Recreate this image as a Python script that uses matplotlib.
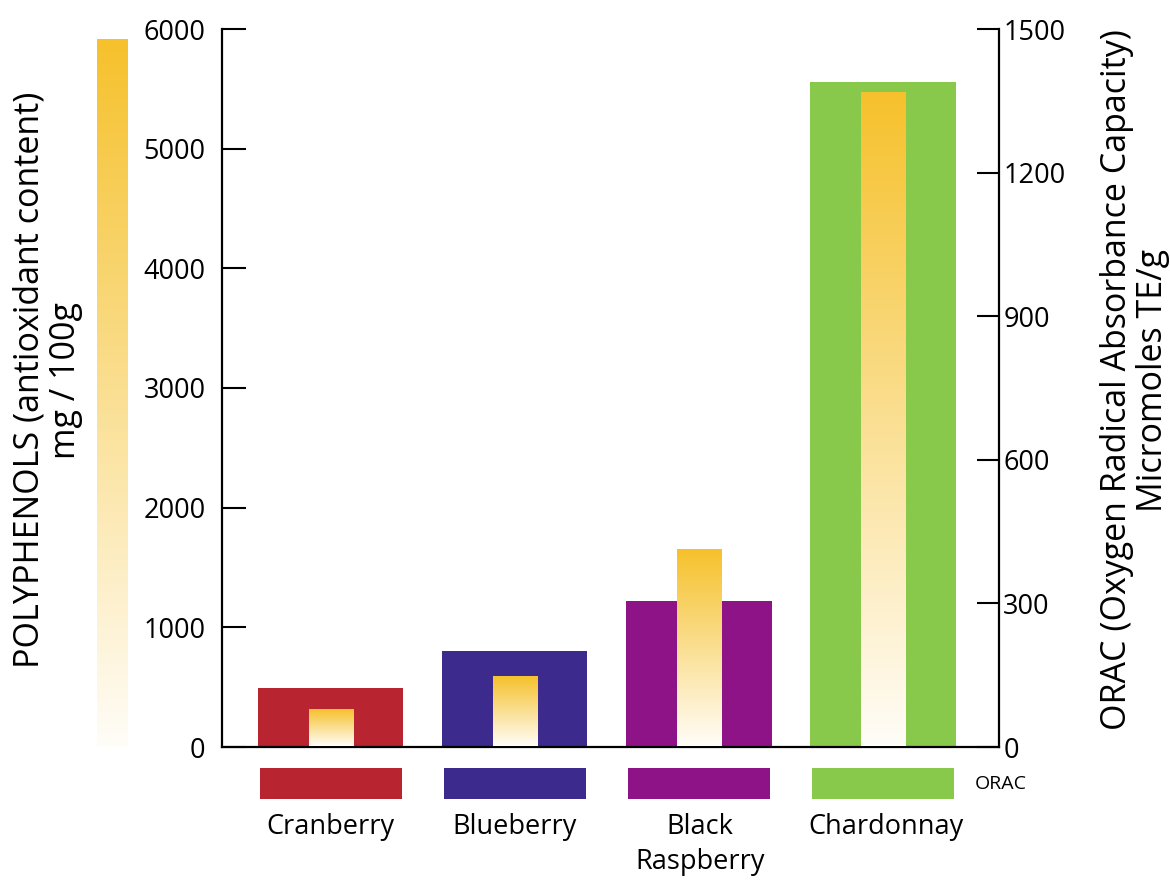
"""Polyphenols vs ORAC bar chart with gradient bars."""

import numpy as np
import matplotlib
matplotlib.use("Agg")
import matplotlib.pyplot as plt
from matplotlib.colors import LinearSegmentedColormap

plt.rcParams["font.family"] = ["Open Sans", "DejaVu Sans"]

categories = ["Cranberry", "Blueberry", "Black\nRaspberry", "Chardonnay"]
orac = [123, 201, 305, 1389]  # micromoles TE/g (right axis)
polyphenols = [310, 586, 1649, 5464]  # mg / 100g (left axis)
bar_colors = ["#B82530", "#3C2A8C", "#8E1386", "#88C84A"]

poly_ticks = [0, 1000, 2000, 3000, 4000, 5000, 6000]
orac_ticks = [0, 300, 600, 900, 1200, 1500]

grad = LinearSegmentedColormap.from_list("poly", ["#FFFDF8", "#F6C12C"])
gradient = np.linspace(0, 1, 256).reshape(-1, 1)

fig = plt.figure(figsize=(11.7, 8.81), dpi=100)
ax = fig.add_axes([222 / 1170, 1 - 747 / 881, (999 - 222) / 1170, (747 - 29) / 881])
ax2 = ax.twinx()

x = np.arange(len(categories))
xlim = (-0.59, 3.63)

# wide bars: ORAC on the right axis (drawn underneath)
ax.bar(x, orac, width=0.79, color=bar_colors, zorder=1)
ax.set_ylim(0, 1500)
ax.set_yticks(orac_ticks)
ax.yaxis.tick_right()
ax.set_xlim(*xlim)

# narrow gradient bars: polyphenols on the left axis
for xi, val in zip(x, polyphenols):
    ax2.imshow(gradient, cmap=grad, origin="lower", aspect="auto",
               extent=(xi - 0.12, xi + 0.12, 5, val), zorder=2)
ax2.set_xlim(*xlim)
ax2.set_ylim(0, 6000)
ax2.yaxis.tick_left()
ax2.set_yticks(poly_ticks)

for a in (ax, ax2):
    a.set_xticks([])
    a.spines["top"].set_visible(False)
    for s in a.spines.values():
        s.set_linewidth(1.6)
ax2.spines["right"].set_visible(False)
ax.spines["left"].set_visible(False)
ax2.spines["bottom"].set_visible(False)

ax.tick_params(axis="y", direction="in", length=16, width=1.5, labelsize=19.5, pad=3)
ax2.tick_params(axis="y", direction="in", length=17, width=1.5, labelsize=19.5, pad=12)

# ORAC colour key strips under each bar
key = fig.add_axes([222 / 1170, 1 - 799 / 881, (999 - 222) / 1170, 31 / 881])
key.bar(x, [1] * len(x), width=0.77, color=bar_colors)
key.set_xlim(*xlim)
key.set_ylim(0, 1)
key.axis("off")
fig.text(975 / 1170, 1 - 784 / 881, "ORAC", fontsize=14, va="center", ha="left")

for xi, lab in zip([330, 515, 700, 886], categories):
    fig.text(xi / 1170, 1 - 813 / 881, lab, fontsize=19.5, ha="center", va="top",
             linespacing=1.35)

# polyphenol gradient scale on the far left
cb = fig.add_axes([97 / 1170, 1 - 747 / 881, 31 / 1170, (747 - 39) / 881])
cb.imshow(gradient, cmap=grad, origin="lower", aspect="auto")
cb.axis("off")

fig.text(30 / 1170, 1 - 380 / 881, "POLYPHENOLS (antioxidant content)",
         rotation=90, fontsize=24.5, ha="center", va="center")
fig.text(66 / 1170, 1 - 381 / 881, "mg / 100g",
         rotation=90, fontsize=24.5, ha="center", va="center")
fig.text(1117 / 1170, 1 - 380 / 881, "ORAC (Oxygen Radical Absorbance Capacity)",
         rotation=90, fontsize=24.5, ha="center", va="center")
fig.text(1153 / 1170, 1 - 380 / 881, "Micromoles TE/g",
         rotation=90, fontsize=24.5, ha="center", va="center")

fig.savefig("out.png", dpi=100)
